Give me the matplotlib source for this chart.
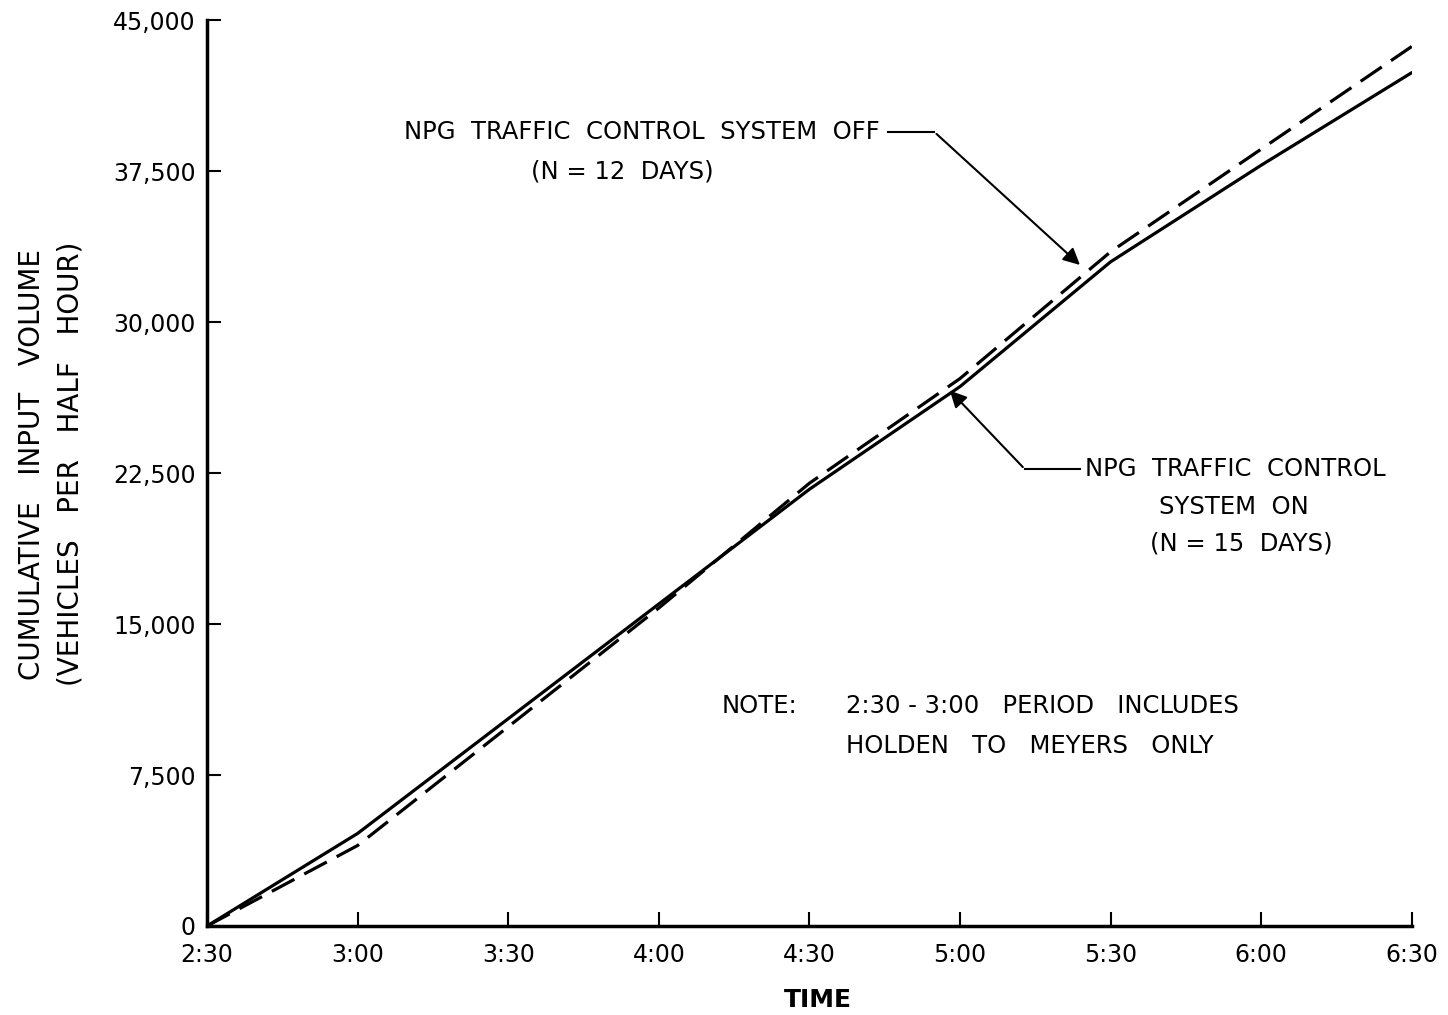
import numpy as np
import matplotlib.pyplot as plt

# half-hour marks, 2:30 to 6:30
times = ["2:30", "3:00", "3:30", "4:00", "4:30", "5:00", "5:30", "6:00", "6:30"]
vol_on = [0, 4600, 10300, 16000, 21700, 26800, 33000, 37800, 42400]
vol_off = [0, 4000, 9900, 15800, 22000, 27200, 33500, 38600, 43700]

x = np.arange(len(times))

plt.rcParams['font.family'] = 'DejaVu Sans'
fig = plt.figure(figsize=(14.48, 10.15), dpi=100)
ax = fig.add_axes([0.143, 0.0877, 0.832, 0.8923])

ax.plot(x, vol_on, color='black', lw=2.3, solid_capstyle='round')
ax.plot(x, vol_off, color='black', lw=2.3, dashes=(8, 3.5))

ax.set_xlim(0, 8)
ax.set_ylim(0, 45000)
ax.set_xticks(x)
ax.set_xticklabels(times)
yt = np.arange(0, 45001, 7500)
ax.set_yticks(yt)
ax.set_yticklabels(["{:,}".format(v) for v in yt])
ax.tick_params(direction='in', length=10, width=1.5, labelsize=17)
ax.tick_params(axis='y', pad=8)
ax.tick_params(axis='x', pad=12)

for s in ['top', 'right']:
    ax.spines[s].set_visible(False)
for s in ['left', 'bottom']:
    ax.spines[s].set_linewidth(2.5)

ax.set_xlabel("TIME", fontsize=18, fontweight='bold')
ax.xaxis.set_label_coords(0.507, -0.068)
ax.set_ylabel("CUMULATIVE   INPUT   VOLUME\n(VEHICLES   PER   HALF   HOUR)",
              fontsize=20, linespacing=1.45)
ax.yaxis.set_label_coords(-0.102, 0.51)

fs = 17.5

# callout for system off
ax.annotate("", xy=(5.81, 32750), xytext=(4.83, 39450),
            arrowprops=dict(arrowstyle='-|>', color='black', lw=1.5,
                            mutation_scale=25))
ax.plot([4.52, 4.83], [39450, 39450], color='black', lw=1.5)
ax.text(4.47, 39450, "NPG  TRAFFIC  CONTROL  SYSTEM  OFF", fontsize=fs,
        ha='right', va='center')
ax.text(2.76, 37500, "(N = 12  DAYS)", fontsize=fs, ha='center', va='center')

# callout for system on
ax.annotate("", xy=(4.92, 26700), xytext=(5.43, 22700),
            arrowprops=dict(arrowstyle='-|>', color='black', lw=1.5,
                            mutation_scale=25))
ax.plot([5.43, 5.80], [22700, 22700], color='black', lw=1.5)
ax.text(5.83, 22700, "NPG  TRAFFIC  CONTROL", fontsize=fs, ha='left', va='center')
ax.text(6.82, 20800, "SYSTEM  ON", fontsize=fs, ha='center', va='center')
ax.text(6.87, 19000, "(N = 15  DAYS)", fontsize=fs, ha='center', va='center')

ax.text(3.42, 10930, "NOTE:", fontsize=fs, ha='left', va='center')
ax.text(4.24, 10930, "2:30 - 3:00   PERIOD   INCLUDES", fontsize=fs,
        ha='left', va='center')
ax.text(4.24, 8940, "HOLDEN   TO   MEYERS   ONLY", fontsize=fs,
        ha='left', va='center')

fig.savefig("out.png", dpi=100)
